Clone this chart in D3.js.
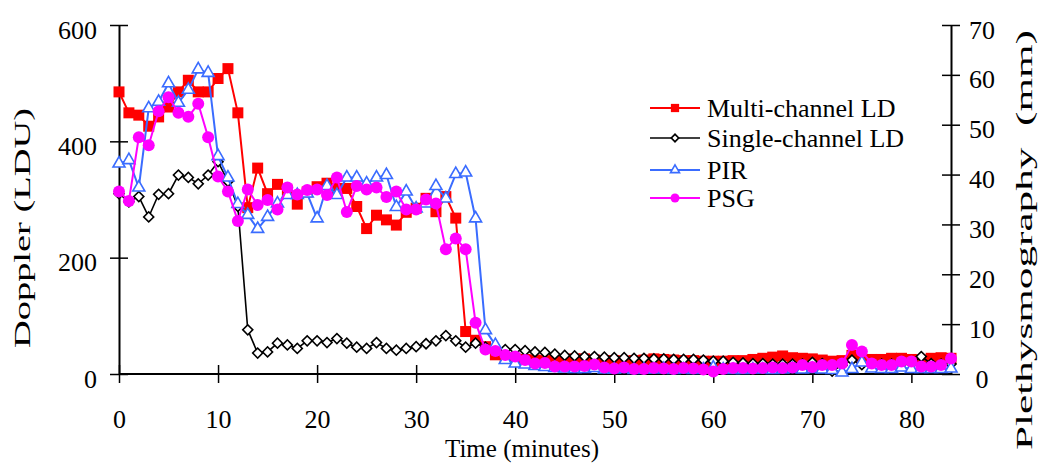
<!DOCTYPE html>
<html>
<head>
<meta charset="utf-8">
<script src="https://cdn.jsdelivr.net/npm/d3@7"></script>
<style>
  body { margin: 0; background: #fff; }
</style>
</head>
<body>
<div id="chart"></div>
<script>
// time in minutes, one reading per minute
var minutes = [0, 1, 2, 3, 4, 5, 6, 7, 8, 9, 10, 11, 12, 13, 14, 15, 16, 17, 18, 19,
    20, 21, 22, 23, 24, 25, 26, 27, 28, 29, 30, 31, 32, 33, 34, 35, 36, 37, 38, 39,
    40, 41, 42, 43, 44, 45, 46, 47, 48, 49, 50, 51, 52, 53, 54, 55, 56, 57, 58, 59,
    60, 61, 62, 63, 64, 65, 66, 67, 68, 69, 70, 71, 72, 73, 74, 75, 76, 77, 78, 79,
    80, 81, 82, 83, 84]

// Doppler (LDU), left axis
var multiChannel = [485, 449, 445, 426, 442, 459, 485, 505, 485, 485, 508, 525, 449, 286, 354, 310, 326, 316, 292, 313,
    322, 328, 319, 319, 288, 250, 273, 265, 256, 278, 285, 302, 279, 305, 268, 73, 58, 47, 33, 28,
    26, 25, 24, 23, 24, 25, 26, 26, 24, 23, 23, 22, 23, 24, 26, 25, 24, 23, 23, 22,
    22, 22, 23, 23, 25, 27, 29, 31, 28, 27, 26, 24, 22, 23, 32, 25, 25, 25, 27, 27,
    25, 24, 27, 28, 27]

var singleChannel = [310, 296, 305, 270, 309, 310, 342, 338, 327, 342, 365, 331, 288, 76, 36, 38, 53, 50, 44, 57,
    57, 54, 61, 53, 46, 44, 54, 44, 41, 44, 47, 52, 57, 66, 57, 46, 53, 46, 42, 42,
    42, 40, 38, 37, 34, 32, 31, 30, 30, 29, 28, 28, 27, 27, 26, 26, 25, 25, 25, 24,
    22, 22, 20, 19, 18, 18, 17, 17, 17, 17, 20, 18, 5, 15, 24, 16, 17, 17, 17, 17,
    18, 30, 18, 17, 17]

// Plethysmography (mm), right axis
var pir = [42.2, 42.9, 37.4, 53.3, 54.6, 58.3, 54.4, 57.0, 61.1, 60.4, 43.7, 39.4, 34.1, 31.9, 29.1, 31.5, 34.2, 35.9, 35.9, 36.2,
    31.2, 37.7, 35.9, 39.4, 39.4, 38.2, 39.4, 39.9, 33.5, 36.6, 33.2, 34.2, 37.7, 35.2, 40.1, 40.4, 31.2, 8.8, 5.8, 2.8,
    2.1, 1.9, 1.6, 1.4, 1.2, 1.1, 1.0, 1.0, 1.2, 0.9, 0.9, 1.0, 0.8, 0.9, 0.9, 1.0, 0.8, 0.9, 0.8, 0.9,
    1.3, 0.9, 0.8, 0.8, 0.9, 0.9, 0.8, 0.9, 1.0, 0.9, 1.0, 0.9, 0.8, 0.3, 1.0, 2.3, 1.1, 1.0, 1.0, 1.3,
    1.0, 1.0, 1.0, 1.0, 1.1]

var psg = [36.6, 34.7, 47.5, 45.9, 52.7, 55.5, 52.4, 51.6, 54.2, 47.5, 39.6, 36.6, 30.7, 37.0, 33.9, 34.9, 33.0, 37.4, 36.0, 36.9,
    37.0, 35.9, 39.4, 32.5, 37.7, 37.0, 37.4, 35.5, 36.6, 33.0, 33.0, 35.0, 34.2, 25.0, 27.2, 25.0, 10.3, 4.9, 4.6, 3.8,
    3.5, 2.8, 2.1, 2.2, 1.5, 1.5, 1.5, 1.6, 1.9, 1.3, 1.1, 1.3, 1.0, 1.0, 1.2, 1.1, 1.0, 1.2, 1.1, 0.9,
    0.5, 1.0, 1.2, 1.2, 1.1, 1.2, 1.3, 1.2, 1.3, 1.8, 1.4, 1.8, 1.8, 2.1, 5.8, 4.5, 2.1, 1.8, 1.8, 2.5,
    2.5, 1.5, 1.5, 1.8, 3.1]

var xTicks = [0, 10, 20, 30, 40, 50, 60, 70, 80]
var leftTicks = [0, 200, 400, 600]
var rightTicks = [0, 10, 20, 30, 40, 50, 60, 70]

var legendNames = ["Multi-channel LD", "Single-channel LD", "PIR", "PSG"]

var serif = "'Liberation Serif', 'Times New Roman', serif"
var width = 1040
var height = 464

var svg = d3.select("#chart")
    .append("svg")
    .attr("width", width)
    .attr("height", height)

var x = d3.scaleLinear().domain([0, 84]).range([119, 951])
var yLeft = d3.scaleLinear().domain([0, 600]).range([374, 25])
var yRight = d3.scaleLinear().domain([0, 70]).range([374, 25])

var markers = {
    square: function(sel, color, s) {
        sel.attr("d", d3.symbol(d3.symbolSquare, s * s))
            .attr("fill", color).attr("stroke", "none")
    },
    diamond: function(sel, color, s) {
        sel.attr("d", d3.symbol(d3.symbolSquare, s * s / 2))
            .attr("fill", "#fff").attr("stroke", color).attr("stroke-width", 1.6)
    },
    triangle: function(sel, color, s) {
        sel.attr("d", d3.symbol(d3.symbolTriangle, s * s * 0.433))
            .attr("fill", "#fff").attr("stroke", color).attr("stroke-width", 1.6)
    },
    circle: function(sel, color, s) {
        sel.attr("d", d3.symbol(d3.symbolCircle, Math.PI * s * s / 4))
            .attr("fill", color).attr("stroke", "none")
    }
}

var series = [
    {values: multiChannel, y: yLeft, color: "#ff0000", marker: "square", size: 11, lw: 2},
    {values: singleChannel, y: yLeft, color: "#000000", marker: "diamond", size: 10, lw: 1.6},
    {values: pir, y: yRight, color: "#3a6cff", marker: "triangle", size: 12, lw: 2},
    {values: psg, y: yRight, color: "#ff00ff", marker: "circle", size: 12, lw: 2}
]

function drawSeries(s) {
    var pts = minutes.map(function(m, i) { return [m, s.values[i]] })
    var line = d3.line()
        .x(function(d) { return x(d[0]) })
        .y(function(d) { return s.y(d[1]) })

    var g = svg.append("g")
    g.append("path")
        .datum(pts)
        .attr("d", line)
        .attr("fill", "none")
        .attr("stroke", s.color)
        .attr("stroke-width", s.lw)

    g.selectAll("path.mk")
        .data(pts)
        .enter()
        .append("path")
        .attr("class", "mk")
        .attr("transform", function(d) {
            var t = "translate(" + x(d[0]) + "," + s.y(d[1]) + ")"
            return s.marker == "diamond" ? t + " rotate(45)" : t
        })
        .call(markers[s.marker], s.color, s.size)
}

// axes with ticks crossing the axis line
function crossTicks(g, horizontal) {
    g.select(".domain").attr("stroke-width", 2)
    g.selectAll(".tick line")
        .attr("stroke-width", 1.5)
        .attr(horizontal ? "y1" : "x1", horizontal ? -9 : 9)
    g.selectAll("text")
        .style("font-family", serif)
        .style("font-size", "26px")
        .attr("fill", "#000")
}

var xAxis = svg.append("g")
    .attr("transform", "translate(0,374)")
    .call(d3.axisBottom(x).tickValues(xTicks).tickSize(9).tickPadding(27).tickSizeOuter(0))
xAxis.call(crossTicks, true)
xAxis.select(".domain").attr("d", "M119,0H951")

var leftAxis = svg.append("g")
    .attr("transform", "translate(119,0)")
    .call(d3.axisLeft(yLeft).tickValues(leftTicks).tickSize(9).tickPadding(13).tickSizeOuter(0))
leftAxis.call(crossTicks, false)
leftAxis.selectAll("text").attr("dy", "0.5em")

var rightAxis = svg.append("g")
    .attr("transform", "translate(951,0)")
    .call(d3.axisRight(yRight).tickValues(rightTicks).tickSize(9).tickPadding(13).tickSizeOuter(0))
rightAxis.call(crossTicks, false)
rightAxis.selectAll(".tick line").attr("x1", -9)
rightAxis.selectAll("text")
    .attr("dy", "0.5em")
    .attr("x", 31)
    .attr("text-anchor", "middle")

series.forEach(drawSeries)

// axis titles, stretched along their length like in the source
svg.append("text")
    .attr("transform", "translate(30,228) rotate(-90)")
    .attr("text-anchor", "middle")
    .style("font-family", serif)
    .style("font-size", "24px")
    .attr("textLength", 240)
    .attr("lengthAdjust", "spacingAndGlyphs")
    .text("Doppler (LDU)")

svg.append("text")
    .attr("transform", "translate(1032,240) rotate(-90)")
    .attr("text-anchor", "middle")
    .style("font-family", serif)
    .style("font-size", "24px")
    .style("white-space", "pre")
    .attr("textLength", 420)
    .attr("lengthAdjust", "spacingAndGlyphs")
    .text("Plethysmography  (mm)")

svg.append("text")
    .attr("x", 522)
    .attr("y", 457)
    .attr("text-anchor", "middle")
    .style("font-family", serif)
    .style("font-size", "25px")
    .text("Time (minutes)")

// legend
var legendY = [108, 138, 170, 198]
var legend = svg.append("g")
series.forEach(function(s, i) {
    var row = legend.append("g").attr("transform", "translate(0," + legendY[i] + ")")
    row.append("line")
        .attr("x1", 650).attr("x2", 700)
        .attr("stroke", s.color).attr("stroke-width", s.lw)
    row.append("path")
        .attr("transform", "translate(675,0)" + (s.marker == "diamond" ? " rotate(45)" : ""))
        .call(markers[s.marker], s.color, s.size * 0.75)
    row.append("text")
        .attr("x", 707).attr("y", 9)
        .style("font-family", serif)
        .style("font-size", "26px")
        .text(legendNames[i])
})
</script>
</body>
</html>
